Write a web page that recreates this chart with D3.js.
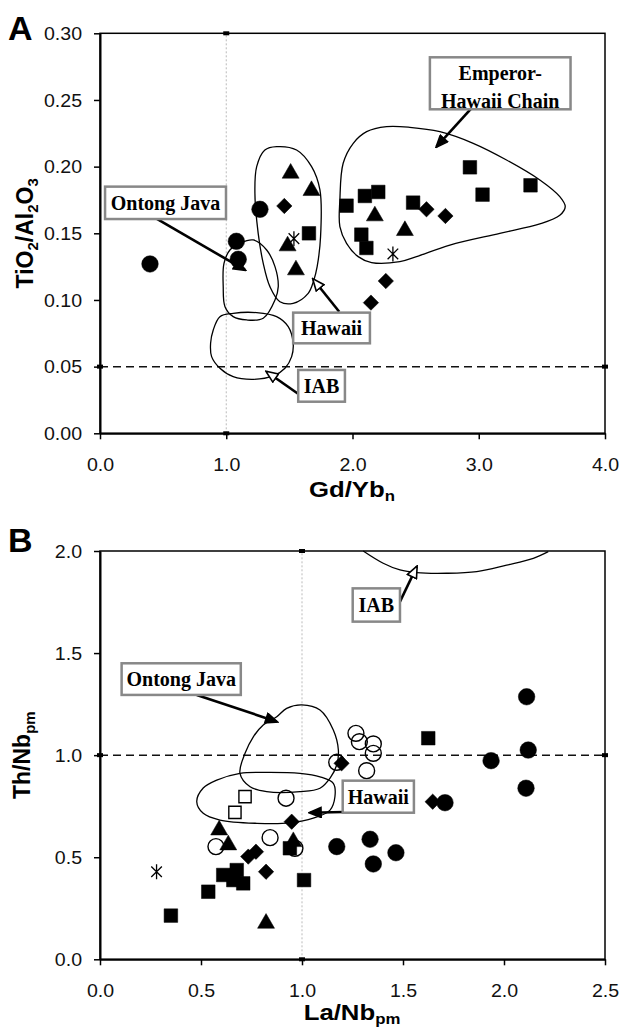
<!DOCTYPE html>
<html>
<head>
<meta charset="utf-8">
<script src="https://cdn.jsdelivr.net/npm/d3@7"></script>
<style>
  body { margin: 0; background: #fff; }
  svg { display: block; font-family: "Liberation Sans", Arial, sans-serif; }
</style>
</head>
<body>
<div id="app"></div>
<script>
// ---- panel A : TiO2/Al2O3 vs Gd/Yb_n ----
const aCircles = [[0.396, 0.127], [1.08, 0.144], [1.095, 0.1305], [1.267, 0.168]];
const aSquares = [[1.655, 0.150], [1.953, 0.1707], [2.098, 0.178], [2.204, 0.181], [2.07, 0.149],
  [2.11, 0.139], [2.48, 0.173], [2.93, 0.1995], [3.03, 0.179], [3.41, 0.186]];
const aTriangles = [[1.51, 0.195], [1.675, 0.182], [1.486, 0.1405], [1.552, 0.1225], [2.177, 0.163], [2.415, 0.152]];
const aDiamonds = [[1.46, 0.1705], [2.586, 0.168], [2.736, 0.163], [2.264, 0.1142], [2.146, 0.098]];
const aStars = [[1.536, 0.146], [2.32, 0.1345]];

const aHawaii = [[1.399, 0.215], [1.557, 0.2125], [1.676, 0.2], [1.742, 0.1825], [1.747, 0.1475], [1.72, 0.125],
  [1.694, 0.115], [1.649, 0.105], [1.53, 0.0975], [1.425, 0.0987], [1.346, 0.11], [1.293, 0.1275],
  [1.253, 0.15], [1.227, 0.18], [1.241, 0.2], [1.306, 0.2125]];
const aOntong = [[1.108, 0.1425], [1.214, 0.145], [1.32, 0.1375], [1.386, 0.125], [1.412, 0.11], [1.386, 0.1],
  [1.293, 0.0863], [1.162, 0.085], [1.055, 0.0875], [0.99, 0.095], [0.976, 0.11], [0.982, 0.1275], [1.029, 0.1375]];
const aIAB = [[0.95, 0.0875], [1.055, 0.09], [1.241, 0.0905], [1.399, 0.0875], [1.491, 0.08], [1.53, 0.0675],
  [1.518, 0.0575], [1.465, 0.0488], [1.372, 0.043], [1.214, 0.0405], [1.055, 0.0425], [0.95, 0.0488],
  [0.884, 0.0575], [0.876, 0.0675], [0.897, 0.0775]];
const aEmperor = [[1.9, 0.155], [1.9, 0.175], [1.926, 0.2025], [2.006, 0.2175], [2.112, 0.2262], [2.27, 0.23],
  [2.454, 0.2295], [2.692, 0.2262], [2.956, 0.2175], [3.22, 0.205], [3.484, 0.19], [3.642, 0.1775],
  [3.685, 0.17], [3.642, 0.1635], [3.484, 0.157], [3.167, 0.15], [2.771, 0.1412], [2.507, 0.1325],
  [2.375, 0.1287], [2.151, 0.128], [2.045, 0.1325], [1.953, 0.1425]];

const aXTicks = [0, 1, 2, 3, 4];
const aYTicks = [0, 0.05, 0.10, 0.15, 0.20, 0.25, 0.30];

// label boxes: [x0, y0, x1, y1] in data units, arrow from -> to
const aLabels = [
  { lines: ["Ontong Java"], box: [0.04, 0.185, 0.998, 0.1607], from: [0.42, 0.1625], to: [1.148, 0.1225], open: false },
  { lines: ["Hawaii"], box: [1.53, 0.0905, 2.138, 0.0675], from: [1.895, 0.0912], to: [1.689, 0.1155], open: true },
  { lines: ["IAB"], box: [1.57, 0.0475, 1.94, 0.0237], from: [1.583, 0.0287], to: [1.32, 0.0462], open: true },
  { lines: ["Emperor-", "Hawaii Chain"], box: [2.613, 0.282, 3.727, 0.243], from: [2.943, 0.2438], to: [2.666, 0.215], open: false }
];

// ---- panel B : Th/Nb_pm vs La/Nb_pm ----
const bCircles = [[2.112, 1.286], [2.12, 1.025], [1.936, 0.973], [2.109, 0.838], [1.708, 0.767],
  [1.172, 0.552], [1.337, 0.588], [1.353, 0.467], [1.465, 0.522]];
const bOpenCircles = [[1.267, 1.107], [1.284, 1.066], [1.353, 1.055], [1.353, 1.009], [1.32, 0.924],
  [1.172, 0.965], [0.921, 0.789], [0.842, 0.596], [0.574, 0.552], [0.965, 0.544]];
const bSquares = [[0.351, 0.214], [0.536, 0.331], [0.61, 0.413], [0.677, 0.437], [0.66, 0.388],
  [0.709, 0.372], [0.94, 0.544], [1.01, 0.388], [1.625, 1.083]];
const bOpenSquares = [[0.718, 0.797], [0.668, 0.72]];
const bTriangles = [[0.59, 0.633], [0.635, 0.56], [0.957, 0.576], [0.822, 0.176]];
const bDiamonds = [[1.196, 0.96], [1.647, 0.772], [0.949, 0.674], [0.772, 0.527], [0.734, 0.503], [0.822, 0.429]];
const bStars = [[0.28, 0.429]];

const bIAB = [[1.303, 2.0], [1.402, 1.94], [1.485, 1.907], [1.568, 1.894], [1.716, 1.891], [1.865, 1.899],
  [2.013, 1.931], [2.145, 1.964], [2.219, 1.997]];
const bOntong = [[0.718, 1.009], [0.759, 1.09], [0.808, 1.148], [0.875, 1.188], [0.924, 1.229], [0.999, 1.246],
  [1.089, 1.221], [1.155, 1.123], [1.18, 1.025], [1.172, 0.952], [1.139, 0.888], [1.089, 0.838],
  [0.99, 0.821], [0.825, 0.821], [0.743, 0.845], [0.693, 0.911]];
const bHawaii = [[0.479, 0.772], [0.511, 0.839], [0.578, 0.878], [0.693, 0.911], [0.825, 0.916], [0.99, 0.911],
  [1.089, 0.894], [1.155, 0.862], [1.163, 0.796], [1.139, 0.731], [1.056, 0.691], [0.941, 0.668],
  [0.776, 0.666], [0.594, 0.682], [0.511, 0.715]];

const bXTicks = [0, 0.5, 1.0, 1.5, 2.0, 2.5];
const bYTicks = [0, 0.5, 1.0, 1.5, 2.0];

const bLabels = [
  { lines: ["Ontong Java"], box: [0.107, 1.45, 0.697, 1.295], from: [0.479, 1.295], to: [0.875, 1.164], open: false },
  { lines: ["IAB"], box: [1.251, 1.817, 1.485, 1.654], from: [1.485, 1.752], to: [1.568, 1.923], open: true },
  { lines: ["Hawaii"], box: [1.2015, 0.875, 1.554, 0.718], from: [1.262, 0.723], to: [1.04, 0.718], open: false }
];

const width = 623;
const height = 1028;
const stretch = 1.12; // the sans text of the original is a little wide

const svg = d3.select("#app").append("svg").attr("width", width).attr("height", height);

const defs = svg.append("defs");
const arrow = (id, fill) => {
  defs.append("marker")
    .attr("id", id)
    .attr("viewBox", "0 0 14 12")
    .attr("refX", 12)
    .attr("refY", 6)
    .attr("markerWidth", 14)
    .attr("markerHeight", 12)
    .attr("markerUnits", "userSpaceOnUse")
    .attr("orient", "auto")
    .append("path")
    .attr("d", "M1,1 L13,6 L1,11 Z")
    .attr("fill", fill)
    .attr("stroke", "#000")
    .attr("stroke-width", 1.6);
};
arrow("arrFill", "#000");
arrow("arrOpen", "#fff");

const starPath = (r) => {
  const d = r * Math.SQRT1_2;
  return `M0,${-r}L0,${r}M${-d},${-d}L${d},${d}M${d},${-d}L${-d},${d}`;
};

const richText = (sel, parts, sub) => {
  parts.forEach((p, i) => {
    const isSub = i % 2 === 1;
    sel.append("tspan")
      .text(p)
      .attr("font-size", isSub ? sub.size : null)
      .attr("dy", isSub ? sub.shift : (i > 0 ? -sub.shift : null));
  });
};

const panel = (cfg) => {
  const x = d3.scaleLinear().domain(cfg.xDomain).range([100, 605]);
  const y = d3.scaleLinear().domain(cfg.yDomain).range(cfg.yRange);
  const g = svg.append("g");
  const top = cfg.yRange[1];
  const bot = cfg.yRange[0];

  // reference lines
  g.append("line")
    .attr("x1", x(cfg.vRef)).attr("x2", x(cfg.vRef))
    .attr("y1", bot).attr("y2", top)
    .attr("stroke", "#bbb").attr("stroke-width", 1).attr("stroke-dasharray", "2,2");
  g.append("line")
    .attr("x1", 100).attr("x2", 605)
    .attr("y1", y(cfg.hRef)).attr("y2", y(cfg.hRef))
    .attr("stroke", "#111").attr("stroke-width", 1.5).attr("stroke-dasharray", "8,5");

  // contours
  cfg.contours.forEach((c) => {
    const curve = c.closed ? d3.curveCatmullRomClosed.alpha(0.5) : d3.curveCatmullRom.alpha(0.5);
    g.append("path")
      .attr("d", d3.line().x((d) => x(d[0])).y((d) => y(d[1])).curve(curve)(c.pts))
      .attr("fill", "none").attr("stroke", "#000").attr("stroke-width", 1.3);
  });

  // frame
  g.append("rect")
    .attr("x", 100).attr("y", top).attr("width", 505).attr("height", bot - top)
    .attr("fill", "none").attr("stroke", "#000").attr("stroke-width", 1.5);

  // axes
  const ax = g.append("g")
    .attr("transform", `translate(0,${bot})`)
    .call(d3.axisBottom(x).tickValues(cfg.xTicks).tickFormat(d3.format(".1f")).tickSize(6).tickSizeOuter(0));
  ax.selectAll("text").attr("y", 32).attr("dy", "0.35em");
  const ay = g.append("g")
    .attr("transform", "translate(100,0)")
    .call(d3.axisLeft(y).tickValues(cfg.yTicks).tickFormat(d3.format(cfg.yFormat)).tickSize(6).tickSizeOuter(0));
  ay.selectAll("text").attr("x", -16).attr("dy", "0.35em");
  [ax, ay].forEach((a) => {
    a.select(".domain").attr("stroke-width", 2);
    a.selectAll(".tick line").attr("stroke-width", 1.5);
    a.selectAll("text")
      .attr("font-size", 17.5)
      .attr("font-family", "Liberation Sans, Arial, sans-serif")
      .attr("fill", "#111")
      .attr("transform", `scale(${stretch},1)`);
  });

  // end marks of reference lines
  const ends = [[x(cfg.vRef), top], [x(cfg.vRef), bot], [100, y(cfg.hRef)], [605, y(cfg.hRef)]];
  g.selectAll(".endmark").data(ends).enter().append("rect")
    .attr("x", (d) => d[0] - 3).attr("y", (d) => d[1] - 2)
    .attr("width", 6).attr("height", 4).attr("fill", "#000");

  // data marks
  const sym = (data, type, size, opts = {}) => {
    g.append("g").selectAll("path").data(data).enter().append("path")
      .attr("d", d3.symbol(type, size))
      .attr("transform", (d) => `translate(${x(d[0])},${y(d[1])})${opts.rotate ? " rotate(45)" : ""}`)
      .attr("fill", opts.open ? "none" : "#000")
      .attr("stroke", "#000")
      .attr("stroke-width", opts.open ? 1.4 : 0.5);
  };
  (cfg.openCircles && sym(cfg.openCircles, d3.symbolCircle, 200, { open: true }));
  (cfg.openSquares && sym(cfg.openSquares, d3.symbolSquare, 150, { open: true }));
  sym(cfg.circles, d3.symbolCircle, 215);
  sym(cfg.squares, d3.symbolSquare, 185);
  sym(cfg.triangles, d3.symbolTriangle, 125);
  sym(cfg.diamonds, d3.symbolSquare, 118, { rotate: true });
  g.append("g").selectAll("path").data(cfg.stars).enter().append("path")
    .attr("d", starPath(7.5))
    .attr("transform", (d) => `translate(${x(d[0])},${y(d[1])})`)
    .attr("fill", "none").attr("stroke", "#000").attr("stroke-width", 1.3);

  // labels with arrows
  cfg.labels.forEach((l) => {
    g.append("line")
      .attr("x1", x(l.from[0])).attr("y1", y(l.from[1]))
      .attr("x2", x(l.to[0])).attr("y2", y(l.to[1]))
      .attr("stroke", "#000").attr("stroke-width", 2.6)
      .attr("marker-end", `url(#${l.open ? "arrOpen" : "arrFill"})`);
    const bx0 = x(l.box[0]), by0 = y(l.box[1]), bx1 = x(l.box[2]), by1 = y(l.box[3]);
    g.append("rect")
      .attr("x", bx0).attr("y", by0).attr("width", bx1 - bx0).attr("height", by1 - by0)
      .attr("fill", "#fff").attr("stroke", "#888").attr("stroke-width", 2.5);
    const cx = (bx0 + bx1) / 2;
    const n = l.lines.length;
    l.lines.forEach((t, i) => {
      g.append("text")
        .attr("x", cx)
        .attr("y", n === 1 ? (by0 + by1) / 2 + 7 : by0 + 23 + i * 27.5)
        .attr("text-anchor", "middle")
        .attr("font-family", "Liberation Serif, Times New Roman, serif")
        .attr("font-weight", "bold")
        .attr("font-size", 20)
        .text(t);
    });
  });

  // titles
  g.append("text")
    .attr("x", 8).attr("y", cfg.letterY)
    .attr("font-size", 34).attr("font-weight", "bold")
    .text(cfg.letter);
  const xt = g.append("text")
    .attr("transform", `translate(352,${bot + cfg.xTitleDy}) scale(${stretch},1)`)
    .attr("text-anchor", "middle")
    .attr("font-size", 23).attr("font-weight", "bold");
  richText(xt, cfg.xTitle, { size: 15, shift: 4 });
  const yt = g.append("text")
    .attr("transform", `translate(${cfg.yTitleX},${(top + bot) / 2}) rotate(-90)`)
    .attr("text-anchor", "middle")
    .attr("font-size", 23).attr("font-weight", "bold");
  richText(yt, cfg.yTitle, { size: 15, shift: 5 });
};

panel({
  xDomain: [0, 4], yDomain: [0, 0.3], yRange: [433.3, 33.3],
  xTicks: aXTicks, yTicks: aYTicks, yFormat: ".2f",
  vRef: 1.0, hRef: 0.05,
  contours: [
    { pts: aOntong, closed: true }, { pts: aHawaii, closed: true },
    { pts: aIAB, closed: true }, { pts: aEmperor, closed: true }
  ],
  circles: aCircles, squares: aSquares, triangles: aTriangles, diamonds: aDiamonds, stars: aStars,
  labels: aLabels,
  letter: "A", letterY: 40,
  xTitle: ["Gd/Yb", "n"], xTitleDy: 64,
  yTitle: ["TiO", "2", "/Al", "2", "O", "3"], yTitleX: 33
});

panel({
  xDomain: [0, 2.5], yDomain: [0, 2], yRange: [959.3, 551],
  xTicks: bXTicks, yTicks: bYTicks, yFormat: ".1f",
  vRef: 1.0, hRef: 1.0,
  contours: [
    { pts: bIAB, closed: false }, { pts: bOntong, closed: true }, { pts: bHawaii, closed: true }
  ],
  circles: bCircles, squares: bSquares, triangles: bTriangles, diamonds: bDiamonds, stars: bStars,
  openCircles: bOpenCircles, openSquares: bOpenSquares,
  labels: bLabels,
  letter: "B", letterY: 552,
  xTitle: ["La/Nb", "pm"], xTitleDy: 61,
  yTitle: ["Th/Nb", "pm"], yTitleX: 30
});
</script>
</body>
</html>
